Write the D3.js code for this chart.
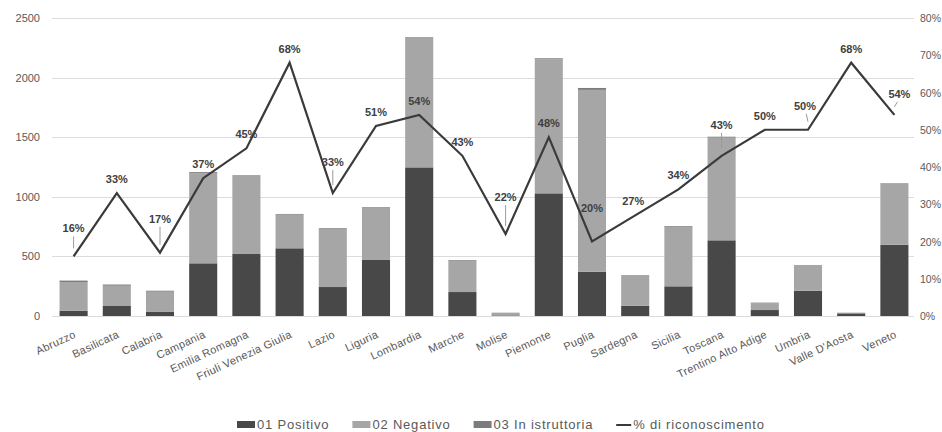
<!DOCTYPE html>
<html>
<head>
<meta charset="utf-8">
<script src="https://cdn.jsdelivr.net/npm/d3@7"></script>
<style>
  html, body { margin: 0; padding: 0; background: #fff; }
  svg { display: block; font-family: "Liberation Sans", "DejaVu Sans", sans-serif; }
</style>
</head>
<body>
<svg id="chart" width="942" height="432"></svg>
<script>
// Regions and outcome counts of the applications
const regions = ["Abruzzo", "Basilicata", "Calabria", "Campania", "Emilia Romagna",
  "Friuli Venezia Giulia", "Lazio", "Liguria", "Lombardia", "Marche", "Molise",
  "Piemonte", "Puglia", "Sardegna", "Sicilia", "Toscana", "Trentino Alto Adige",
  "Umbria", "Valle D'Aosta", "Veneto"];
const positivo = [45, 84, 34, 442, 520, 568, 243, 470, 1247, 201, 5, 1029, 372, 87, 249, 635, 50, 212, 22, 598];
const negativo = [240, 170, 170, 755, 650, 282, 488, 436, 1085, 263, 22, 1125, 1525, 248, 500, 862, 58, 212, 5, 510];
const istruttoria = [12, 10, 8, 10, 10, 6, 6, 6, 6, 6, 1, 8, 16, 6, 6, 7, 4, 4, 1, 5];
// Share of recognised applications (%)
const riconoscimento = [16, 33, 17, 37, 45, 68, 33, 51, 54, 43, 22, 48, 20, 27, 34, 43, 50, 50, 68, 54];
const leftTicks = [0, 500, 1000, 1500, 2000, 2500];
const rightTicks = [0, 10, 20, 30, 40, 50, 60, 70, 80];
const seriesNames = ["01 Positivo", "02 Negativo", "03 In istruttoria", "% di riconoscimento"];

const colors = { pos: "#484848", neg: "#a6a6a6", ist: "#7c7c7c", line: "#3a3a3a" };

const svg = d3.select("#chart");
const plotLeft = 52, plotRight = 916, plotTop = 18, plotBottom = 316;

const x = d3.scaleBand().domain(regions).range([plotLeft, plotRight])
  .paddingInner(0.35).paddingOuter(0.175);
const y = d3.scaleLinear().domain([0, 2500]).range([plotBottom, plotTop]);
const yp = d3.scaleLinear().domain([0, 80]).range([plotBottom, plotTop]);

// gridlines + left axis labels
svg.append("g").selectAll("line").data(leftTicks).join("line")
  .attr("x1", plotLeft).attr("x2", plotRight - 2)
  .attr("y1", d => Math.round(y(d)) + 0.5).attr("y2", d => Math.round(y(d)) + 0.5)
  .attr("stroke", "#dcdcdc").attr("stroke-width", 1.2);

svg.append("g").selectAll("text").data(leftTicks).join("text")
  .attr("x", 40).attr("y", d => y(d) + 4)
  .attr("text-anchor", "end").attr("font-size", 11).attr("fill", "#595959")
  .text(d => d);

svg.append("g").selectAll("text").data(rightTicks).join("text")
  .attr("x", 920).attr("y", d => yp(d) + 4)
  .attr("text-anchor", "start").attr("font-size", 10.5).attr("fill", "#595959")
  .text(d => d + "%");

// stacked bars
const rows = regions.map((r, i) => ({ region: r, pos: positivo[i], neg: negativo[i], ist: istruttoria[i] }));
const stack = d3.stack().keys(["pos", "neg", "ist"])(rows);
svg.append("g").selectAll("g").data(stack).join("g")
  .attr("fill", s => colors[s.key])
  .selectAll("rect").data(s => s).join("rect")
  .attr("x", d => x(d.data.region))
  .attr("width", x.bandwidth())
  .attr("y", d => y(d[1]))
  .attr("height", d => Math.max(0, y(d[0]) - y(d[1])));

// recognition line
const cx = r => x(r) + x.bandwidth() / 2;
const line = d3.line().x((d, i) => cx(regions[i])).y(d => yp(d));
svg.append("path").datum(riconoscimento)
  .attr("d", line).attr("fill", "none")
  .attr("stroke", colors.line).attr("stroke-width", 2.2)
  .attr("stroke-linejoin", "miter");

// percentage labels; some sit higher with a thin leader to the point
const labelLift = { 0: 28, 2: 34, 6: 31, 10: 37, 12: 34, 15: 31, 17: 24, 19: 21 };
const labelShiftX = { 13: -2, 17: -3, 19: 5 };
const leaders = new Set([0, 2, 6, 10, 15, 17, 19]);
const lab = svg.append("g");
riconoscimento.forEach((v, i) => {
  const px = cx(regions[i]), py = yp(v);
  const lift = labelLift[i] !== undefined ? labelLift[i] : 14;
  const tx = px + (labelShiftX[i] || 0), ty = py - lift;
  if (leaders.has(i)) {
    lab.append("line")
      .attr("x1", px + (labelShiftX[i] || 0) * 0.6).attr("x2", px)
      .attr("y1", ty + 8).attr("y2", py - 8)
      .attr("stroke", "#9a9a9a").attr("stroke-width", 1);
  }
  lab.append("text")
    .attr("x", tx).attr("y", ty + 4)
    .attr("text-anchor", "middle").attr("font-size", 11)
    .attr("font-weight", "bold").attr("fill", "#404040")
    .text(v + "%");
});

// category labels
svg.append("g").selectAll("text").data(regions).join("text")
  .attr("transform", d => `translate(${cx(d) + 3},337) rotate(-25)`)
  .attr("text-anchor", "end").attr("font-size", 11).attr("letter-spacing", 0.3)
  .attr("fill", "#595959")
  .text(d => d);

// legend
const legend = svg.append("g").attr("transform", "translate(0,425)");
const swatch = [colors.pos, colors.neg, colors.ist, null];
let lx = 237;
seriesNames.forEach((name, i) => {
  const w = i === 3 ? 15 : 18;
  if (swatch[i]) {
    legend.append("rect").attr("x", lx).attr("y", -4).attr("width", w).attr("height", 7).attr("fill", swatch[i]);
  } else {
    legend.append("line").attr("x1", lx).attr("x2", lx + w).attr("y1", 0).attr("y2", 0)
      .attr("stroke", colors.line).attr("stroke-width", 2);
  }
  const t = legend.append("text").attr("x", lx + w + 2).attr("y", 4)
    .attr("font-size", 13).attr("letter-spacing", 0.8).attr("fill", "#595959").text(name);
  lx += w + 2 + t.node().getComputedTextLength() + 23;
});
</script>
</body>
</html>
